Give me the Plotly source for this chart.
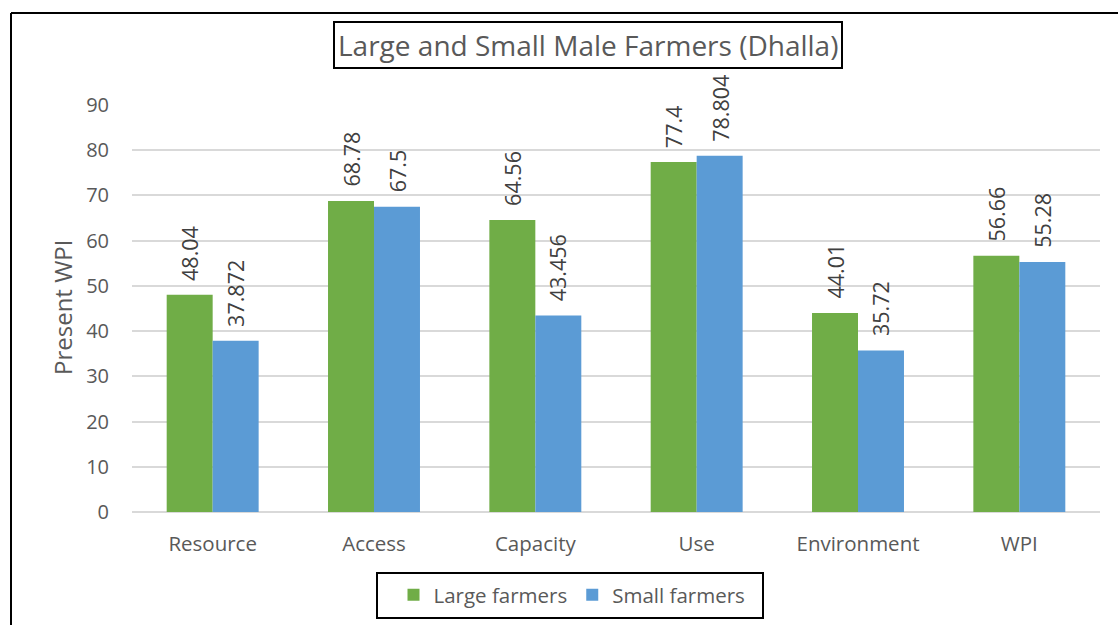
import plotly.graph_objects as go

categories = ["Resource", "Access", "Capacity", "Use", "Environment", "WPI"]
large_farmers = [48.04, 68.78, 64.56, 77.4, 44.01, 56.66]
small_farmers = [37.872, 67.5, 43.456, 78.804, 35.72, 55.28]
y_ticks = [0, 10, 20, 30, 40, 50, 60, 70, 80, 90]

FONT = "Open Sans"
GREY = "#595959"

W, H = 1118, 625
L, R, T, B = 132, 18, 105, 113
pw, ph = W - L - R, H - T - B


def px_x(x):
    return (x - L) / pw


def px_y(y):
    return (H - B - y) / ph


series = [
    ("Large farmers", large_farmers, "#70AD47", -23),
    ("Small farmers", small_farmers, "#5B9BD5", 23),
]

fig = go.Figure()
annotations = []
for name, vals, color, shift in series:
    fig.add_trace(go.Bar(
        x=categories, y=vals, name=name,
        marker=dict(color=color, line=dict(width=0)),
    ))
    # rotated value labels sitting above each bar
    for cat, v in zip(categories, vals):
        annotations.append(dict(
            x=cat, y=v, xref="x", yref="y",
            text=f"{v:g}", textangle=-90, showarrow=False,
            xanchor="center", yanchor="bottom",
            xshift=shift, yshift=12,
            font=dict(family=FONT, size=21.5, color="#404040"),
        ))

annotations += [
    dict(
        text="Large and Small Male Farmers (Dhalla)",
        xref="paper", yref="paper",
        x=px_x(587.5), y=px_y(45), xanchor="center", yanchor="middle",
        showarrow=False,
        font=dict(family=FONT, size=28, color=GREY),
        bordercolor="black", borderwidth=2, borderpad=3,
        bgcolor="white",
    ),
    dict(
        text="Present WPI",
        xref="paper", yref="paper",
        x=px_x(62), y=px_y(308), xanchor="center", yanchor="middle",
        textangle=-90, showarrow=False,
        font=dict(family=FONT, size=24, color=GREY),
    ),
]

fig.update_layout(
    width=W, height=H,
    margin=dict(l=L, r=R, t=T, b=B, autoexpand=False),
    paper_bgcolor="white", plot_bgcolor="white",
    barmode="group", bargap=0.43, bargroupgap=0,
    font=dict(family=FONT, color=GREY),
    showlegend=True,
    legend=dict(
        orientation="h", x=px_x(572), y=px_y(595),
        xanchor="center", yanchor="middle",
        borderwidth=0, bgcolor="rgba(0,0,0,0)",
        font=dict(family=FONT, size=20.5, color=GREY),
        itemwidth=30, traceorder="normal",
    ),
    xaxis=dict(
        showgrid=False, showline=False, ticks="",
        tickfont=dict(family=FONT, size=20.5, color=GREY),
        ticklabelstandoff=17,
    ),
    yaxis=dict(
        range=[0, 90], tickvals=y_ticks,
        showgrid=True, gridcolor="#D9D9D9", gridwidth=1.5,
        zeroline=True, zerolinecolor="#D9D9D9", zerolinewidth=1.5,
        showline=False, ticks="",
        tickfont=dict(family=FONT, size=20, color=GREY),
        ticklabelstandoff=22,
    ),
    annotations=annotations,
    shapes=[
        # outer frame (left and top edges)
        dict(type="line", xref="paper", yref="paper",
             x0=px_x(11), x1=px_x(11), y0=px_y(13), y1=px_y(H + 5),
             line=dict(color="black", width=2)),
        dict(type="line", xref="paper", yref="paper",
             x0=px_x(11), x1=px_x(W + 5), y0=px_y(13), y1=px_y(13),
             line=dict(color="black", width=2)),
        # legend frame
        dict(type="rect", xref="paper", yref="paper",
             x0=px_x(377), x1=px_x(763), y0=px_y(618), y1=px_y(573),
             line=dict(color="black", width=2)),
    ],
)

fig.write_html("out.html")
